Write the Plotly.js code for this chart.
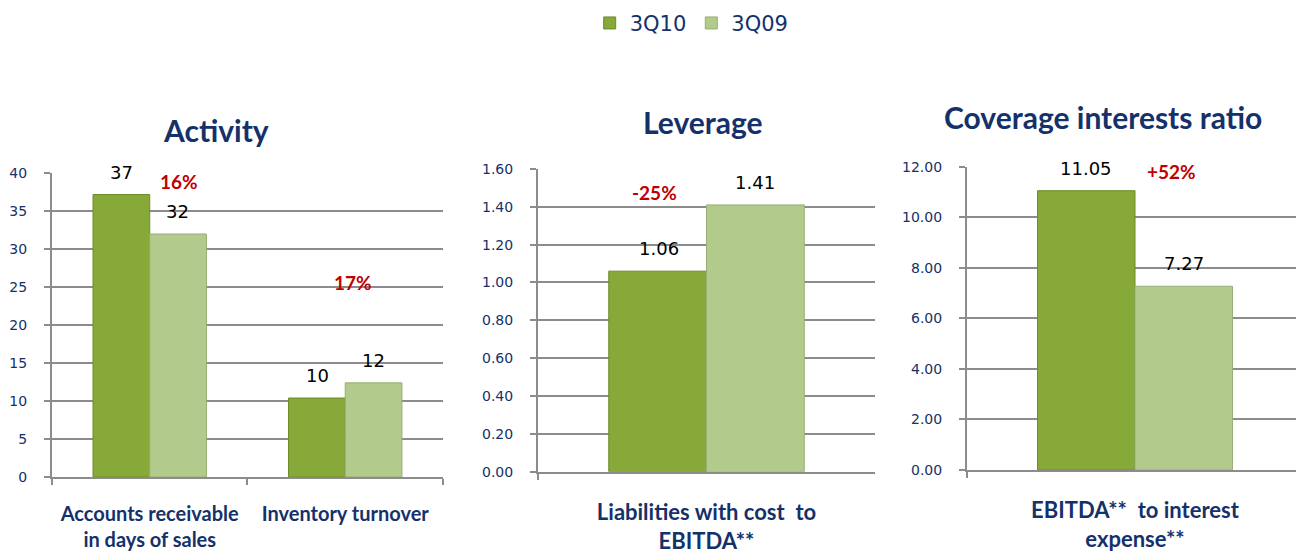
<!DOCTYPE html>
<html>
<head>
<meta charset="utf-8">
<script src="https://cdn.plot.ly/plotly-3.0.1.min.js"></script>
<style>html,body{margin:0;padding:0;background:#fff}#chart{width:1296px;height:559px}</style>
</head>
<body>
<div id="chart"></div>
<script>
// ---- data ----
const seriesNames = ["3Q10", "3Q09"];
const activityCats = ["Accounts receivable<br>in days of sales", "Inventory turnover"];
const activity3Q10 = [37.2, 10.4];
const activity3Q09 = [32.0, 12.4];
const activityLabels3Q10 = ["37", "10"];
const activityLabels3Q09 = ["32", "12"];
const activityChange = ["16%", "17%"];

const leverageCats = ["Liabilities with cost  to<br>EBITDA**"];
const leverage3Q10 = [1.06];
const leverage3Q09 = [1.41];
const leverageChange = ["-25%"];

const coverageCats = ["EBITDA**  to interest<br>expense**"];
const coverage3Q10 = [11.05];
const coverage3Q09 = [7.27];
const coverageChange = ["+52%"];

const titles = ["Activity", "Leverage", "Coverage interests ratio"];

// ---- styles ----
const navy = "#15316A";
const gridCol = "#8C8C8C";
const c10 = "#86A93A";
const c09 = "#B2CB8C";
const fam = "Lato, 'Noto Sans', sans-serif";
const titleFont = {family: fam, size: 30, color: navy, weight: 700};
const catFontSmall = {family: fam, size: 20, color: navy, weight: 700};
const catFontBig = {family: fam, size: 22, color: navy, weight: 700};
const tickFont = {family: "'DejaVu Sans', sans-serif", size: 14, color: navy};
const valFont = {family: "'DejaVu Sans', sans-serif", size: 18, color: "#000"};
const pctFont = {family: fam, size: 19, color: "#C00000", weight: 700};

function bar(name, x, y, color, line, xa, ya, show) {
  return {type: "bar", name: name, x: x, y: y, xaxis: xa, yaxis: ya,
    marker: {color: color, line: {color: line, width: 1}}, showlegend: show,
    hoverinfo: "x+y"};
}

const traces = [
  bar(seriesNames[0], activityCats, activity3Q10, c10, "#6C8C26", "x", "y", true),
  bar(seriesNames[1], activityCats, activity3Q09, c09, "#95AF74", "x", "y", true),
  bar(seriesNames[0], leverageCats, leverage3Q10, c10, "#6C8C26", "x2", "y2", false),
  bar(seriesNames[1], leverageCats, leverage3Q09, c09, "#95AF74", "x2", "y2", false),
  bar(seriesNames[0], coverageCats, coverage3Q10, c10, "#6C8C26", "x3", "y3", false),
  bar(seriesNames[1], coverageCats, coverage3Q09, c09, "#95AF74", "x3", "y3", false)
];

function xax(domain, anchor, font, standoff, range) {
  const a = {domain: domain, anchor: anchor, type: "category", showgrid: false, zeroline: false,
    showline: true, linecolor: gridCol, linewidth: 2, ticks: "outside", tickson: "boundaries",
    ticklen: 6, tickwidth: 2, tickcolor: gridCol, tickfont: font, ticklabelstandoff: standoff,
    fixedrange: true};
  if (range) a.range = range;
  return a;
}
function yax(domain, anchor, range, dtick, fmt) {
  return {domain: domain, anchor: anchor, range: range, dtick: dtick, tickformat: fmt,
    showgrid: true, gridcolor: gridCol, gridwidth: 2, zeroline: false,
    showline: true, linecolor: gridCol, linewidth: 2, ticks: "outside", ticklen: 6,
    tickwidth: 2, tickcolor: gridCol, tickfont: tickFont, ticklabelstandoff: 14, fixedrange: true};
}

const ann = [];
function valAnn(xref, yref, x, y, text, shift) {
  ann.push({xref: xref, yref: yref, x: x, y: y, text: text, showarrow: false,
    xshift: shift, yshift: 10, yanchor: "bottom", font: valFont});
}
function pctAnn(xref, yref, x, y, text, shift) {
  ann.push({xref: xref, yref: yref, x: x, y: y, text: text, showarrow: false,
    xshift: shift, font: pctFont});
}
for (let i = 0; i < activityCats.length; i++) {
  valAnn("x", "y", activityCats[i], activity3Q10[i], activityLabels3Q10[i], -28);
  valAnn("x", "y", activityCats[i], activity3Q09[i], activityLabels3Q09[i], 28);
}
pctAnn("x", "y", activityCats[0], 38.9, activityChange[0], 29);
pctAnn("x", "y", activityCats[1], 25.6, activityChange[1], 8);
valAnn("x2", "y2", leverageCats[0], leverage3Q10[0], leverage3Q10[0].toFixed(2), -48);
valAnn("x2", "y2", leverageCats[0], leverage3Q09[0], leverage3Q09[0].toFixed(2), 48);
pctAnn("x2", "y2", leverageCats[0], 1.478, leverageChange[0], -52);
valAnn("x3", "y3", coverageCats[0], coverage3Q10[0], coverage3Q10[0].toFixed(2), -49);
valAnn("x3", "y3", coverageCats[0], coverage3Q09[0], coverage3Q09[0].toFixed(2), 49);
pctAnn("x3", "y3", coverageCats[0], 11.8, coverageChange[0], 36);

// titles
const titlePos = [[216, 130], [703, 122], [1103, 117]];
for (let i = 0; i < titles.length; i++) {
  ann.push({xref: "paper", yref: "paper", x: titlePos[i][0] / 1296, y: 1 - titlePos[i][1] / 559,
    text: titles[i], showarrow: false, xanchor: "center", yanchor: "middle", font: titleFont});
}

const layout = {
  width: 1296, height: 559,
  margin: {l: 0, r: 0, t: 0, b: 0},
  paper_bgcolor: "#fff", plot_bgcolor: "#fff",
  barmode: "group", bargap: 0.42, bargroupgap: 0,
  showlegend: true,
  legend: {orientation: "h", x: 0.455, xanchor: "left", y: 0.995, yanchor: "top",
    font: {family: "'DejaVu Sans', sans-serif", size: 21, color: navy},
    itemwidth: 30, tracegroupgap: 0},
  xaxis: xax([0.0401, 0.3418], "y", catFontSmall, 18),
  yaxis: yax([0.1467, 0.690], "x", [0, 40], 5, ""),
  xaxis2: xax([0.4151, 0.6752], "y2", catFontBig, 20),
  yaxis2: yax([0.1562, 0.6977], "x2", [0, 1.6], 0.2, ".2f"),
  xaxis3: xax([0.7461, 1.0], "y3", catFontBig, 20, [-0.5, 0.479]),
  yaxis3: yax([0.1592, 0.7018], "x3", [0, 12], 2, ".2f"),
  annotations: ann
};

Plotly.newPlot("chart", traces, layout, {displayModeBar: false, staticPlot: true});
</script>
</body>
</html>
